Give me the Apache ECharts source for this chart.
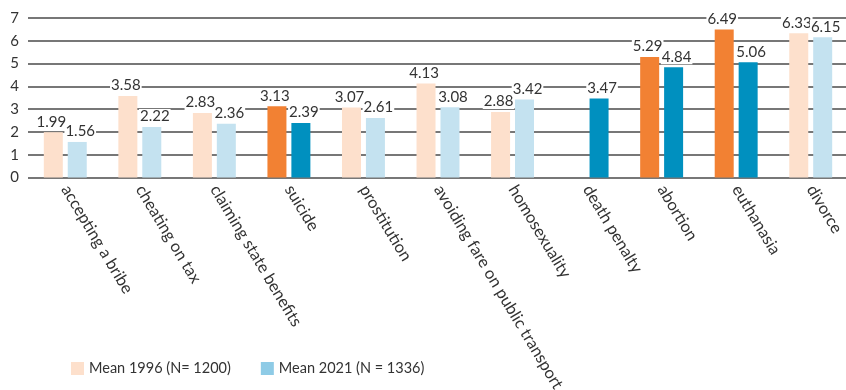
<!DOCTYPE html>
<html>
<head>
<meta charset="utf-8">
<script src="https://cdn.jsdelivr.net/npm/echarts@6/dist/echarts.min.js"></script>
<style>
  html, body { margin: 0; padding: 0; background: #fff; }
  #chart { width: 846px; height: 390px; }
</style>
</head>
<body>
<div id="chart"></div>
<script>
// Attitudes: mean acceptability scores, 1996 vs 2021
const categories = [
  'accepting a bribe', 'cheating on tax', 'claiming state benefits', 'suicide',
  'prostitution', 'avoiding fare on public transport', 'homosexuality',
  'death penalty', 'abortion', 'euthanasia', 'divorce'
];
const mean1996 = [1.99, 3.58, 2.83, 3.13, 3.07, 4.13, 2.88, null, 5.29, 6.49, 6.33];
const mean2021 = [1.56, 2.22, 2.36, 2.39, 2.61, 3.08, 3.42, 3.47, 4.84, 5.06, 6.15];
// Items drawn in the strong shade
const highlight1996 = ['suicide', 'abortion', 'euthanasia'];
const highlight2021 = ['suicide', 'death penalty', 'abortion', 'euthanasia'];
const yTicks = [0, 1, 2, 3, 4, 5, 6, 7];

const FONT = 'Lato';
const PEACH = '#fde0cc', ORANGE = '#f28133';
const LIGHTBLUE = '#c4e2f0', DARKBLUE = '#0090bf', LEGENDBLUE = '#8ecbe6';

function seriesData(values, highlight, light, strong) {
  return values.map((v, i) => ({
    value: v,
    itemStyle: { color: highlight.includes(categories[i]) ? strong : light }
  }));
}

function valueLabel(dx) {
  return {
    show: true,
    position: 'top',
    distance: 3,
    offset: [dx, 0],
    color: '#333',
    fontFamily: FONT,
    fontSize: 15,
    backgroundColor: '#fff',
    padding: [0, 1, 0, 1],
    formatter: p => (p.value == null ? '' : p.value.toFixed(2))
  };
}

const chart = echarts.init(document.getElementById('chart'));
chart.setOption({
  animation: false,
  textStyle: { fontFamily: FONT },
  grid: {
    left: 28, top: 18, width: 820, height: 159.5,
    containLabel: false, outerBoundsMode: 'none'
  },
  legend: {
    left: 66,
    bottom: 9,
    itemWidth: 13,
    itemHeight: 13,
    itemGap: 30,
    icon: 'rect',
    textStyle: { fontFamily: FONT, fontSize: 14.5, color: '#333' },
    data: [
      { name: 'Mean 1996 (N= 1200)', itemStyle: { color: PEACH } },
      { name: 'Mean 2021 (N = 1336)', itemStyle: { color: LEGENDBLUE } }
    ]
  },
  xAxis: {
    type: 'category',
    data: categories,
    axisLine: { show: false },
    axisTick: { show: false },
    axisLabel: {
      interval: 0,
      rotate: -59,
      margin: 9,
      color: '#333',
      fontFamily: FONT,
      fontSize: 16.5
    }
  },
  yAxis: {
    type: 'value',
    min: 0,
    max: 7,
    interval: 1,
    axisLine: { show: false },
    axisTick: { show: false },
    axisLabel: {
      margin: 9,
      color: '#333',
      fontFamily: FONT,
      fontSize: 15,
      formatter: v => (yTicks.includes(v) ? String(v) : '')
    },
    splitLine: { lineStyle: { color: '#4a4a4a', width: 1.5 } }
  },
  series: [
    {
      name: 'Mean 1996 (N= 1200)',
      type: 'bar',
      barWidth: 19,
      barGap: '26%',
      itemStyle: { color: PEACH },
      data: seriesData(mean1996, highlight1996, PEACH, ORANGE),
      label: valueLabel(-2)
    },
    {
      name: 'Mean 2021 (N = 1336)',
      type: 'bar',
      barWidth: 19,
      itemStyle: { color: LEGENDBLUE },
      data: seriesData(mean2021, highlight2021, LIGHTBLUE, DARKBLUE),
      label: valueLabel(3)
    }
  ]
});
</script>
</body>
</html>
